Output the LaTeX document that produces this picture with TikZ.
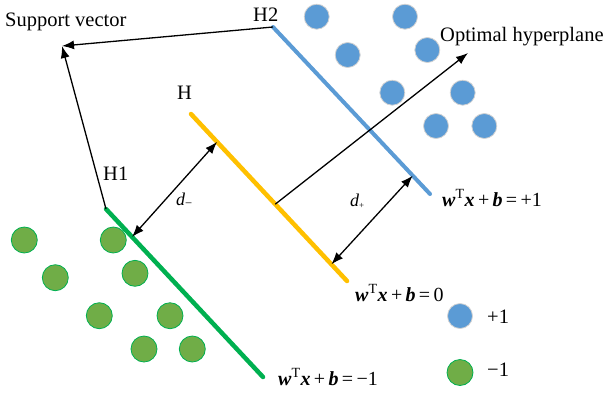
\documentclass[tikz,border=0pt]{standalone}
\usepackage{fontspec}
\setmainfont{Liberation Serif}
\usetikzlibrary{arrows.meta,calc}
\definecolor{bluept}{HTML}{5B9BD5}
\definecolor{yelline}{HTML}{FFC000}
\definecolor{grnline}{HTML}{00B050}
\definecolor{grnpt}{HTML}{70AD47}
\newcommand\bi[1]{\textbf{\textit{#1}}}
\newcommand\svmeq[1]{\bi{w}\textsuperscript{T}\bi{x}\,+\,\bi{b}\,=\,#1}
\tikzset{
  lbl/.style={inner sep=0pt, anchor=base west, font=\fontsize{20.5}{22}\selectfont},
  eqlbl/.style={inner sep=0pt, anchor=base west, font=\fontsize{20}{22}\selectfont},
  dlbl/.style={inner sep=0pt, anchor=base west, font=\fontsize{18}{20}\selectfont},
  bpt/.style={circle, fill=bluept, draw=gray!35, line width=0.8pt, minimum size=25pt, inner sep=0pt},
  gpt/.style={circle, fill=grnpt, draw=grnline, line width=0.8pt, minimum size=26pt, inner sep=0pt},
  arr/.style={line width=1.3pt, -{Latex[length=12pt,width=9pt]}},
  darr/.style={line width=1.3pt, {Latex[length=12pt,width=9pt]}-{Latex[length=12pt,width=9pt]}},
  hyp/.style={line width=4.5pt, line cap=round}
}
\begin{document}
\begin{tikzpicture}[x=1pt,y=-1pt]
\useasboundingbox (0,0) rectangle (607,392);
% blue points
\foreach \n/\px/\py in {b1/316.7/16.7, b2/405/16.7, b3/347.7/55, b4/427.3/50, b5/392.3/92.7, b6/462.7/92.7, b7/436/126, b8/484.3/126}
  \node[bpt] (\n) at (\px,\py) {};
% green points
\foreach \n/\px/\py in {g1/24.3/240, g2/113.3/240, g3/55.3/277.7, g4/135/273.3, g5/99.3/315.7, g6/170/315.7, g7/144/349, g8/192.3/349}
  \node[gpt] (\n) at (\px,\py) {};
% hyperplanes
\coordinate (h2a) at (273,27);
\coordinate (h2b) at (430,194);
\coordinate (ha) at (191,114);
\coordinate (hb) at (347,281);
\coordinate (h1a) at (106,209);
\coordinate (h1b) at (263,377);
\coordinate (sv) at (62,46);
\coordinate (opt) at (468,53);
\draw[hyp, bluept, line width=4pt] (h2a) -- (h2b);
\draw[hyp, yelline] (ha) -- (hb);
\draw[hyp, grnline] (h1a) -- (h1b);
% arrows
\draw[arr] (h2a) -- (sv);
\draw[arr] (h1a) -- (sv);
\draw[arr] ($(ha)!0.54!(hb)$) -- (opt);
\draw[darr] ($(ha)!0.167!(hb)$) -- ($(h1a)!0.166!(h1b)$);
\draw[darr] ($(h2a)!0.89!(h2b)$) -- ($(ha)!0.90!(hb)$);
% labels
\node[lbl] (lsv) at (5,26) {Support vector};
\node[lbl] (lopt) at (440,41.5) {Optimal hyperplane};
\node[lbl] (lh2) at (253,21) {H2};
\node[lbl] (lh) at (177,99.5) {H};
\node[lbl] (lh1) at (103,180) {H1};
\node[dlbl] (ldm) at (176,205) {\textit{d}\textsubscript{−}};
\node[dlbl] (ldp) at (350,206) {\textit{d}\textsubscript{\fontsize{9}{9}\selectfont +}};
\node[eqlbl] (e1) at (442,206.5) {\svmeq{+1}};
\node[eqlbl] (e0) at (355,301.5) {\svmeq{0}};
\node[eqlbl] (em) at (278,385) {\svmeq{−1}};
% legend
\node[bpt] (legb) at (460,316) {};
\node[gpt] (legg) at (460,372.5) {};
\node[lbl] (lp1) at (487,323.3) {+1};
\node[lbl] (lm1) at (487,376.7) {−1};
\end{tikzpicture}
\end{document}
